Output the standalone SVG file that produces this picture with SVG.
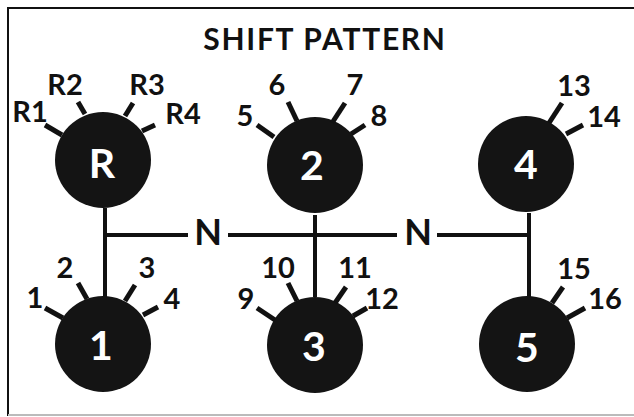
<svg xmlns="http://www.w3.org/2000/svg" width="634" height="417" viewBox="0 0 634 417">
<style>
.knob{fill:#141414}
.tick{stroke:#111;stroke-width:5;stroke-linecap:butt}
.lbl{font-family:Lato,"Open Sans","DejaVu Sans",sans-serif;font-weight:bold;font-size:29px;fill:#111;text-anchor:middle}
.big{font-family:Lato,"Open Sans","DejaVu Sans",sans-serif;font-weight:bold;font-size:41px;fill:#fff;text-anchor:middle}
.conn{stroke:#111;stroke-width:4;fill:none}
.title{font-family:Lato,"Open Sans","DejaVu Sans",sans-serif;font-weight:bold;font-size:30px;fill:#111;text-anchor:middle;letter-spacing:1.7px}
.n{font-family:Lato,"Open Sans","DejaVu Sans",sans-serif;font-weight:bold;font-size:36px;fill:#111;text-anchor:middle}
</style>
<rect width="634" height="417" fill="#fff"/>
<path d="M8 416 V8 H634" stroke="#111" stroke-width="2" fill="none"/>
<line x1="8" y1="415" x2="634" y2="415" stroke="#bbb" stroke-width="2"/>
<text class="title" x="325" y="50">SHIFT PATTERN</text>

<g id="connectors">
<path class="conn" d="M105 208 V297"/>
<path class="conn" d="M315 215 V297"/>
<path class="conn" d="M529 213 V297"/>
<path class="conn" d="M103 235 H188 M228 235 H397 M437 235 H531"/>
<text class="n" x="208" y="245">N</text>
<text class="n" x="418" y="245">N</text>
</g>

<g id="gear-R">
<circle class="knob" cx="103" cy="160" r="48"/>
<line class="tick" x1="45" y1="125" x2="62" y2="135"/>
<line class="tick" x1="78" y1="102" x2="85" y2="114"/>
<line class="tick" x1="133" y1="103" x2="125" y2="116"/>
<line class="tick" x1="155" y1="125" x2="142" y2="131"/>
<text class="lbl" x="30" y="122">R1</text>
<text class="lbl" x="65" y="95">R2</text>
<text class="lbl" x="147" y="95">R3</text>
<text class="lbl" x="183" y="124">R4</text>
<text class="big" x="102" y="178">R</text>
</g>

<g id="gear-2">
<circle class="knob" cx="315" cy="165" r="48"/>
<line class="tick" x1="257" y1="125" x2="274" y2="137"/>
<line class="tick" x1="288" y1="102" x2="297" y2="121"/>
<line class="tick" x1="345" y1="103" x2="332" y2="123"/>
<line class="tick" x1="365" y1="125" x2="351" y2="134"/>
<text class="lbl" x="245" y="126">5</text>
<text class="lbl" x="277" y="95">6</text>
<text class="lbl" x="355" y="95">7</text>
<text class="lbl" x="379" y="126">8</text>
<text class="big" x="312" y="180">2</text>
</g>

<g id="gear-4">
<circle class="knob" cx="526" cy="164" r="48"/>
<line class="tick" x1="562" y1="103" x2="549" y2="123"/>
<line class="tick" x1="583" y1="125" x2="566" y2="134"/>
<text class="lbl" x="574" y="96">13</text>
<text class="lbl" x="604" y="127">14</text>
<text class="big" x="526" y="179">4</text>
</g>

<g id="gear-1">
<circle class="knob" cx="103" cy="344" r="48"/>
<line class="tick" x1="45" y1="308" x2="63" y2="318"/>
<line class="tick" x1="78" y1="283" x2="87" y2="299"/>
<line class="tick" x1="135" y1="285" x2="125" y2="301"/>
<line class="tick" x1="158" y1="307" x2="143" y2="315"/>
<text class="lbl" x="35" y="308">1</text>
<text class="lbl" x="65" y="278">2</text>
<text class="lbl" x="147" y="278">3</text>
<text class="lbl" x="172" y="309">4</text>
<text class="big" x="101" y="360">1</text>
</g>

<g id="gear-3">
<circle class="knob" cx="315" cy="345" r="48"/>
<line class="tick" x1="257" y1="308" x2="275" y2="320"/>
<line class="tick" x1="288" y1="283" x2="297" y2="301"/>
<line class="tick" x1="346" y1="287" x2="335" y2="303"/>
<line class="tick" x1="367" y1="308" x2="353" y2="316"/>
<text class="lbl" x="246" y="309">9</text>
<text class="lbl" x="278" y="278">10</text>
<text class="lbl" x="355" y="278">11</text>
<text class="lbl" x="382" y="309">12</text>
<text class="big" x="314" y="361">3</text>
</g>

<g id="gear-5">
<circle class="knob" cx="527" cy="344" r="48"/>
<line class="tick" x1="563" y1="287" x2="552" y2="303"/>
<line class="tick" x1="585" y1="308" x2="567" y2="318"/>
<text class="lbl" x="574" y="279">15</text>
<text class="lbl" x="605" y="309">16</text>
<text class="big" x="527" y="362">5</text>
</g>
</svg>
